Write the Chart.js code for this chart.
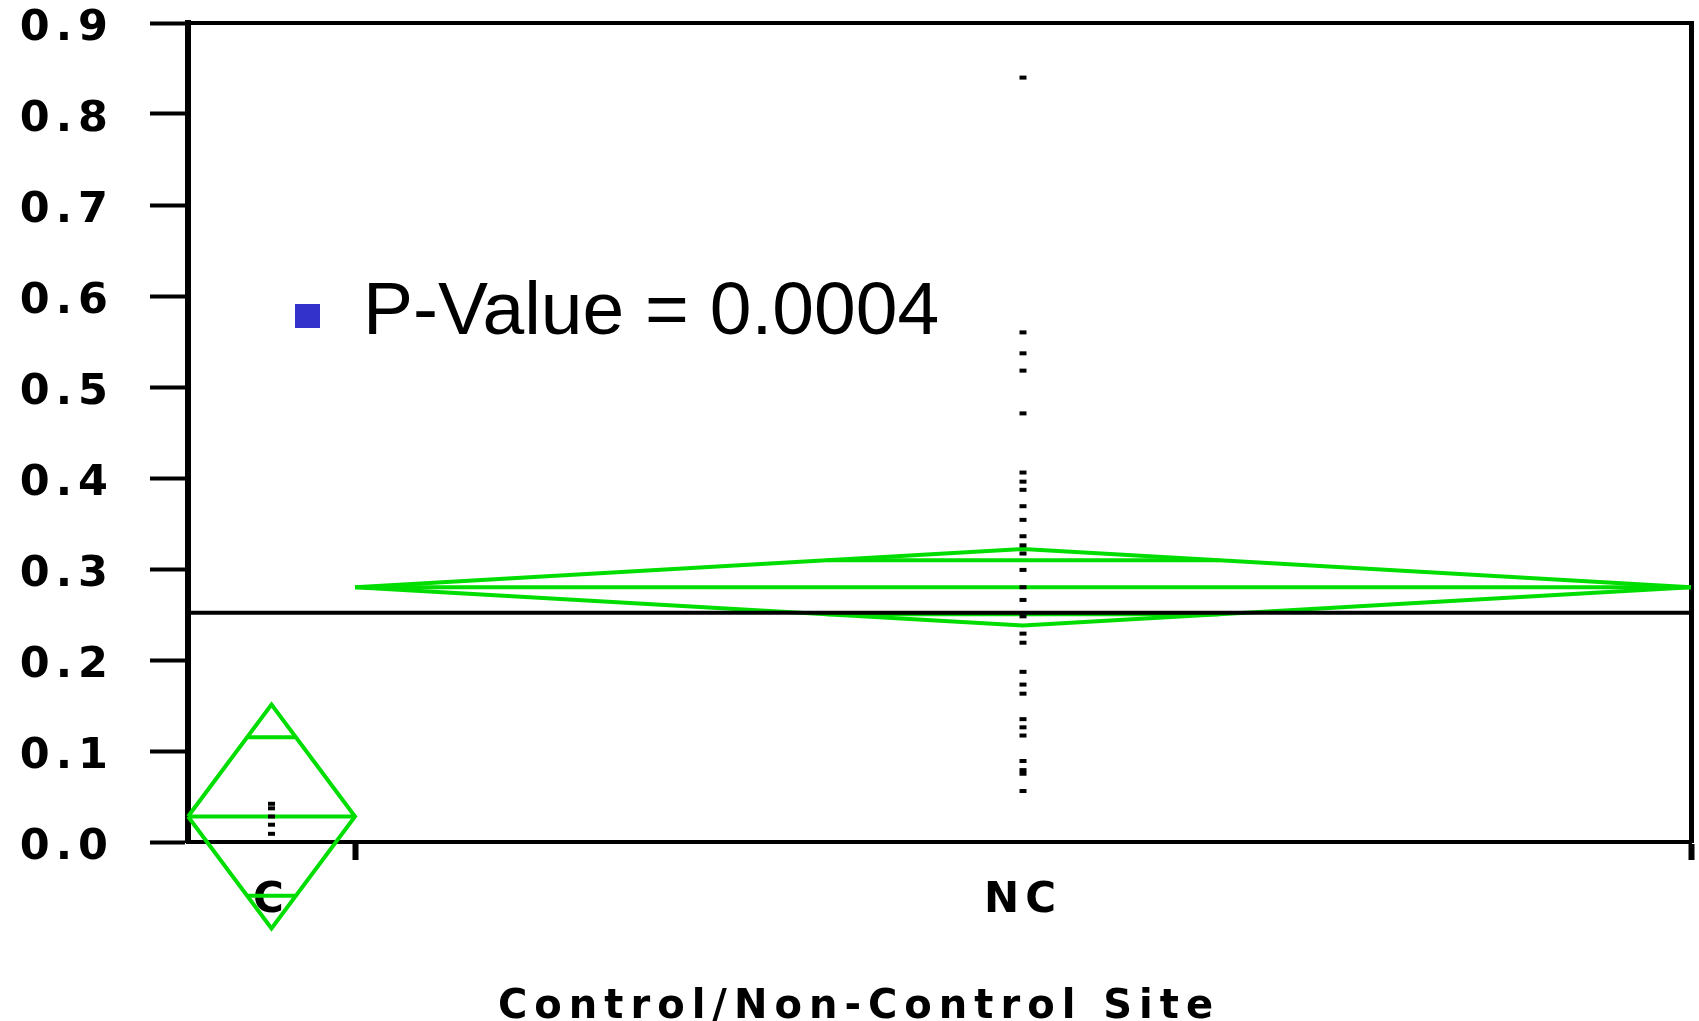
<!DOCTYPE html>
<html>
<head>
<meta charset="utf-8">
<script src="https://cdn.jsdelivr.net/npm/chart.js@4"></script>
<style>
  html, body { margin: 0; padding: 0; background: #fff; }
  canvas { display: block; }
</style>
</head>
<body>
<canvas id="chart" width="1699" height="1021"></canvas>
<script>
// one-way fit by site type, with means diamonds
const groups = ['C', 'NC'];
const groupCounts = [5, 40];
const groupMeans = [0.028, 0.280];
const groupCI = [0.123, 0.042];      // half height of each diamond (95% interval)
const grandMean = 0.252;

const valuesC = [0.042, 0.037, 0.028, 0.019, 0.009];
const valuesNC = [0.840, 0.560, 0.537, 0.518, 0.471, 0.406, 0.396, 0.387, 0.369,
  0.354, 0.336, 0.326, 0.317, 0.299, 0.280, 0.266, 0.248, 0.229, 0.219, 0.187,
  0.173, 0.163, 0.135, 0.126, 0.117, 0.089, 0.079, 0.075, 0.056];

const yTicks = [0, 0.1, 0.2, 0.3, 0.4, 0.5, 0.6, 0.7, 0.8, 0.9];
const xTitle = 'Control/Non-Control Site';
const pValueText = 'P-Value = 0.0004';

const GREEN = '#00dd00';
const TICK_FONT = { family: '"DejaVu Sans", sans-serif', weight: 'bold', size: 43 };

// every group gets a slice of the x axis as wide as its count
const starts = [];
let total = 0;
groupCounts.forEach(n => { starts.push(total); total += n; });
const centers = groupCounts.map((n, i) => starts[i] + n / 2);
const edges = groupCounts.map((n, i) => starts[i] + n);

const dotStyle = {
  pointStyle: 'line', pointRadius: 3.5, pointBorderWidth: 4,
  pointBorderColor: '#000', showLine: false
};
const lineStyle = { showLine: true, pointRadius: 0, borderColor: GREEN, borderWidth: 4, tension: 0, spanGaps: false, clip: false };

const datasets = [
  { label: 'C', data: valuesC.map(v => ({ x: centers[0], y: v })), ...dotStyle },
  { label: 'NC', data: valuesNC.map(v => ({ x: centers[1], y: v })), ...dotStyle },
  { label: 'Grand mean', data: [{ x: 0, y: grandMean }, { x: total, y: grandMean }],
    showLine: true, pointRadius: 0, borderColor: '#000', borderWidth: 4 }
];

groups.forEach((g, i) => {
  const s = starts[i], e = edges[i], c = centers[i], m = groupMeans[i], h = groupCI[i];
  // diamond outline
  datasets.push({ label: g + ' diamond', ...lineStyle,
    data: [{ x: s, y: m }, { x: c, y: m + h }, { x: e, y: m }, { x: c, y: m - h }, { x: s, y: m }] });
  // group mean
  datasets.push({ label: g + ' mean', ...lineStyle, data: [{ x: s, y: m }, { x: e, y: m }] });
  // overlap marks at mean +/- ci/sqrt(2)
  const o = h / Math.SQRT2;
  const half = (groupCounts[i] / 2) * (1 - 1 / Math.SQRT2);
  datasets.push({ label: g + ' overlap', ...lineStyle,
    data: [{ x: c - half, y: m + o }, { x: c + half, y: m + o }, { x: c, y: null },
           { x: c - half, y: m - o }, { x: c + half, y: m - o }] });
});

const spacing = {
  id: 'spacing',
  beforeDraw(chart) { chart.ctx.letterSpacing = '6px'; }
};

const annotations = {
  id: 'annotations',
  afterDraw(chart) {
    const { ctx, chartArea } = chart;
    ctx.save();
    ctx.letterSpacing = '0px';
    ctx.fillStyle = '#3333cc';
    ctx.fillRect(chartArea.left + 107, chartArea.top + 281, 25, 24);
    ctx.fillStyle = '#000';
    ctx.font = '75px "Liberation Sans", Arial, sans-serif';
    ctx.textBaseline = 'alphabetic';
    ctx.textAlign = 'left';
    ctx.fillText(pValueText, chartArea.left + 175, chartArea.top + 311);

    ctx.font = 'bold 40px "DejaVu Sans", sans-serif';
    ctx.letterSpacing = '7px';
    ctx.fillText(xTitle, chartArea.left + 310, chartArea.bottom + 176);
    ctx.restore();
  }
};

// keep the plot frame where it is, regardless of label sizes
const noPad = s => { s.paddingTop = 0; s.paddingBottom = 0; s.paddingLeft = 0; s.paddingRight = 0; };

new Chart(document.getElementById('chart'), {
  type: 'scatter',
  data: { datasets },
  plugins: [spacing, annotations],
  options: {
    responsive: false,
    animation: false,
    devicePixelRatio: 1,
    layout: { padding: 0 },
    plugins: { legend: { display: false }, tooltip: { enabled: false } },
    scales: {
      x: {
        type: 'linear', position: 'bottom', min: 0, max: total, weight: 1,
        afterBuildTicks: s => { s.ticks = centers.map(v => ({ value: v })); },
        ticks: { autoSkip: false, maxRotation: 0, padding: 8, color: '#000',
          font: { ...TICK_FONT, size: 42 }, callback: (v, i) => groups[i] },
        grid: { display: false },
        border: { display: false },
        afterFit: s => { s.height = 161; noPad(s); }
      },
      xb: {
        type: 'linear', position: 'bottom', min: 0, max: total, weight: 0, z: 1,
        afterBuildTicks: s => { s.ticks = edges.map(v => ({ value: v })); },
        ticks: { display: false },
        grid: { drawOnChartArea: false, drawTicks: true, tickLength: 18, tickWidth: 6, tickColor: '#000' },
        border: { display: true, color: '#000', width: 4 },
        afterFit: s => { s.height = 18; noPad(s); }
      },
      xt: {
        type: 'linear', position: 'top', min: 0, max: total,
        ticks: { display: false },
        grid: { display: false },
        border: { display: true, color: '#000', width: 4 },
        afterFit: s => { s.height = 23; noPad(s); }
      },
      y: {
        type: 'linear', position: 'left', min: 0, max: 0.9, z: 1,
        afterBuildTicks: s => { s.ticks = yTicks.map(v => ({ value: v })); },
        ticks: { padding: 36, labelOffset: 6, color: '#000', font: TICK_FONT, callback: v => v.toFixed(1) },
        grid: { drawOnChartArea: false, tickLength: 38, tickWidth: 4, tickColor: '#000' },
        border: { display: true, color: '#000', width: 6 },
        afterFit: s => { s.width = 188; noPad(s); }
      },
      yr: {
        type: 'linear', position: 'right', min: 0, max: 0.9,
        ticks: { display: false },
        grid: { display: false },
        border: { display: true, color: '#000', width: 5 },
        afterFit: s => { s.width = 7; noPad(s); }
      }
    }
  }
});
</script>
</body>
</html>
